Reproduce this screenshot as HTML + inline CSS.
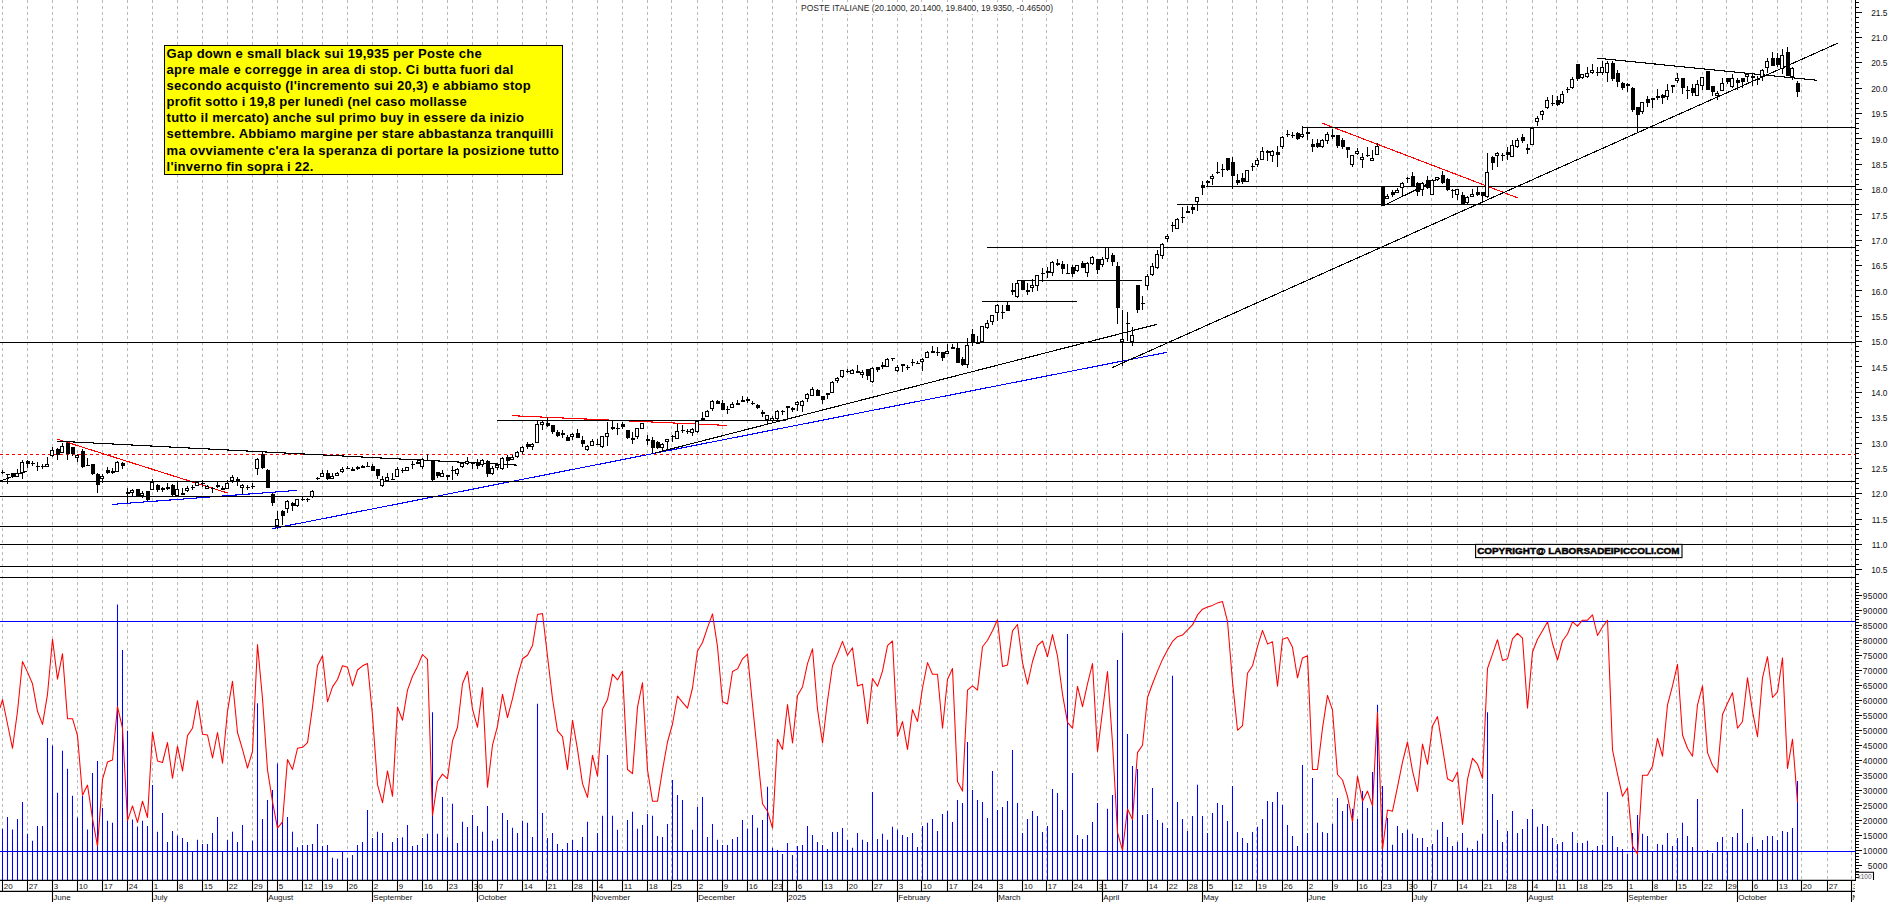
<!DOCTYPE html>
<html lang="it"><head><meta charset="utf-8"><title>POSTE ITALIANE</title>
<style>html,body{margin:0;padding:0;background:#fff;overflow:hidden}body{width:1890px;height:902px}</style>
</head><body>
<svg width="1890" height="902" viewBox="0 0 1890 902" style="display:block">
<rect width="1890" height="902" fill="#fff"/>
<g stroke="#b9b9b9" stroke-width="1" stroke-dasharray="3 3" shape-rendering="crispEdges">
<line x1="2.5" y1="0" x2="2.5" y2="879.9"/>
<line x1="27.5" y1="0" x2="27.5" y2="879.9"/>
<line x1="52.5" y1="0" x2="52.5" y2="879.9"/>
<line x1="77.5" y1="0" x2="77.5" y2="879.9"/>
<line x1="102.5" y1="0" x2="102.5" y2="879.9"/>
<line x1="127.5" y1="0" x2="127.5" y2="879.9"/>
<line x1="152.5" y1="0" x2="152.5" y2="879.9"/>
<line x1="177.5" y1="0" x2="177.5" y2="879.9"/>
<line x1="202.5" y1="0" x2="202.5" y2="879.9"/>
<line x1="227.5" y1="0" x2="227.5" y2="879.9"/>
<line x1="252.5" y1="0" x2="252.5" y2="879.9"/>
<line x1="277.5" y1="0" x2="277.5" y2="879.9"/>
<line x1="302.5" y1="0" x2="302.5" y2="879.9"/>
<line x1="322.5" y1="0" x2="322.5" y2="879.9"/>
<line x1="347.5" y1="0" x2="347.5" y2="879.9"/>
<line x1="372.5" y1="0" x2="372.5" y2="879.9"/>
<line x1="397.5" y1="0" x2="397.5" y2="879.9"/>
<line x1="422.5" y1="0" x2="422.5" y2="879.9"/>
<line x1="447.5" y1="0" x2="447.5" y2="879.9"/>
<line x1="472.5" y1="0" x2="472.5" y2="879.9"/>
<line x1="497.5" y1="0" x2="497.5" y2="879.9"/>
<line x1="522.5" y1="0" x2="522.5" y2="879.9"/>
<line x1="546.5" y1="0" x2="546.5" y2="879.9"/>
<line x1="572.5" y1="0" x2="572.5" y2="879.9"/>
<line x1="597.5" y1="0" x2="597.5" y2="879.9"/>
<line x1="622.5" y1="0" x2="622.5" y2="879.9"/>
<line x1="647.5" y1="0" x2="647.5" y2="879.9"/>
<line x1="671.5" y1="0" x2="671.5" y2="879.9"/>
<line x1="697.5" y1="0" x2="697.5" y2="879.9"/>
<line x1="722.5" y1="0" x2="722.5" y2="879.9"/>
<line x1="747.5" y1="0" x2="747.5" y2="879.9"/>
<line x1="772.5" y1="0" x2="772.5" y2="879.9"/>
<line x1="796.5" y1="0" x2="796.5" y2="879.9"/>
<line x1="822.5" y1="0" x2="822.5" y2="879.9"/>
<line x1="847.5" y1="0" x2="847.5" y2="879.9"/>
<line x1="872.5" y1="0" x2="872.5" y2="879.9"/>
<line x1="897.5" y1="0" x2="897.5" y2="879.9"/>
<line x1="921.5" y1="0" x2="921.5" y2="879.9"/>
<line x1="947.5" y1="0" x2="947.5" y2="879.9"/>
<line x1="972.5" y1="0" x2="972.5" y2="879.9"/>
<line x1="997.5" y1="0" x2="997.5" y2="879.9"/>
<line x1="1022.5" y1="0" x2="1022.5" y2="879.9"/>
<line x1="1046.5" y1="0" x2="1046.5" y2="879.9"/>
<line x1="1072.5" y1="0" x2="1072.5" y2="879.9"/>
<line x1="1097.5" y1="0" x2="1097.5" y2="879.9"/>
<line x1="1122.5" y1="0" x2="1122.5" y2="879.9"/>
<line x1="1147.5" y1="0" x2="1147.5" y2="879.9"/>
<line x1="1167.5" y1="0" x2="1167.5" y2="879.9"/>
<line x1="1187.5" y1="0" x2="1187.5" y2="879.9"/>
<line x1="1207.5" y1="0" x2="1207.5" y2="879.9"/>
<line x1="1232.5" y1="0" x2="1232.5" y2="879.9"/>
<line x1="1256.5" y1="0" x2="1256.5" y2="879.9"/>
<line x1="1282.5" y1="0" x2="1282.5" y2="879.9"/>
<line x1="1307.5" y1="0" x2="1307.5" y2="879.9"/>
<line x1="1332.5" y1="0" x2="1332.5" y2="879.9"/>
<line x1="1357.5" y1="0" x2="1357.5" y2="879.9"/>
<line x1="1381.5" y1="0" x2="1381.5" y2="879.9"/>
<line x1="1407.5" y1="0" x2="1407.5" y2="879.9"/>
<line x1="1431.5" y1="0" x2="1431.5" y2="879.9"/>
<line x1="1457.5" y1="0" x2="1457.5" y2="879.9"/>
<line x1="1482.5" y1="0" x2="1482.5" y2="879.9"/>
<line x1="1506.5" y1="0" x2="1506.5" y2="879.9"/>
<line x1="1532.5" y1="0" x2="1532.5" y2="879.9"/>
<line x1="1556.5" y1="0" x2="1556.5" y2="879.9"/>
<line x1="1577.5" y1="0" x2="1577.5" y2="879.9"/>
<line x1="1602.5" y1="0" x2="1602.5" y2="879.9"/>
<line x1="1627.5" y1="0" x2="1627.5" y2="879.9"/>
<line x1="1652.5" y1="0" x2="1652.5" y2="879.9"/>
<line x1="1676.5" y1="0" x2="1676.5" y2="879.9"/>
<line x1="1702.5" y1="0" x2="1702.5" y2="879.9"/>
<line x1="1726.5" y1="0" x2="1726.5" y2="879.9"/>
<line x1="1752.5" y1="0" x2="1752.5" y2="879.9"/>
<line x1="1777.5" y1="0" x2="1777.5" y2="879.9"/>
<line x1="1801.5" y1="0" x2="1801.5" y2="879.9"/>
<line x1="1827.5" y1="0" x2="1827.5" y2="879.9"/>
<line x1="1851.5" y1="0" x2="1851.5" y2="879.9"/>
</g>
<line x1="0" y1="454.5" x2="1855" y2="454.5" stroke="#f00" stroke-width="1" stroke-dasharray="3 3" shape-rendering="crispEdges"/>
<g fill="none">
<line x1="56.9" y1="439.1" x2="227.5" y2="493" stroke="#f00" stroke-width="1.1" shape-rendering="crispEdges"/>
<line x1="512.2" y1="415.7" x2="727" y2="425.4" stroke="#f00" stroke-width="1.1" shape-rendering="crispEdges"/>
<line x1="1322" y1="123.1" x2="1517.6" y2="197.8" stroke="#f00" stroke-width="1.1" shape-rendering="crispEdges"/>
<line x1="112.2" y1="504.4" x2="296.7" y2="490.4" stroke="#00f" stroke-width="1.1" shape-rendering="crispEdges"/>
<line x1="272.5" y1="528.6" x2="1167" y2="352.3" stroke="#00f" stroke-width="1.1" shape-rendering="crispEdges"/>
</g>
<g stroke="#000" stroke-width="1.0" fill="none">
<line x1="1302" y1="127.5" x2="1855" y2="127.5" stroke-width="1" shape-rendering="crispEdges"/>
<line x1="1206" y1="186.5" x2="1855" y2="186.5" stroke-width="1" shape-rendering="crispEdges"/>
<line x1="1177" y1="204.5" x2="1855" y2="204.5" stroke-width="1" shape-rendering="crispEdges"/>
<line x1="987" y1="247.5" x2="1855" y2="247.5" stroke-width="1" shape-rendering="crispEdges"/>
<line x1="1017" y1="280.5" x2="1142" y2="280.5" stroke-width="1" shape-rendering="crispEdges"/>
<line x1="982" y1="301.5" x2="1077" y2="301.5" stroke-width="1" shape-rendering="crispEdges"/>
<line x1="0" y1="342.5" x2="1855" y2="342.5" stroke-width="1" shape-rendering="crispEdges"/>
<line x1="497" y1="420.5" x2="786" y2="420.5" stroke-width="1" shape-rendering="crispEdges"/>
<line x1="0" y1="481.5" x2="1855" y2="481.5" stroke-width="1" shape-rendering="crispEdges"/>
<line x1="0" y1="496.5" x2="1855" y2="496.5" stroke-width="1" shape-rendering="crispEdges"/>
<line x1="0" y1="526.5" x2="1855" y2="526.5" stroke-width="1" shape-rendering="crispEdges"/>
<line x1="0" y1="544.5" x2="1855" y2="544.5" stroke-width="1" shape-rendering="crispEdges"/>
<line x1="0" y1="566.5" x2="1855" y2="566.5" stroke-width="1" shape-rendering="crispEdges"/>
<line x1="0" y1="577.5" x2="1855" y2="577.5" stroke-width="1" shape-rendering="crispEdges"/>
<line x1="0.5" y1="481" x2="27" y2="471" stroke-width="1.1" shape-rendering="crispEdges"/>
<line x1="57" y1="441.1" x2="517" y2="465.1" stroke-width="1.1" shape-rendering="crispEdges"/>
<line x1="655" y1="453" x2="1157" y2="324.3" stroke-width="1.1" shape-rendering="crispEdges"/>
<line x1="1112" y1="367.7" x2="1837.5" y2="43.3" stroke-width="1.1" shape-rendering="crispEdges"/>
<line x1="1382.5" y1="206.2" x2="1440" y2="178" stroke-width="1.1" shape-rendering="crispEdges"/>
<line x1="1597.2" y1="58.2" x2="1817" y2="80.3" stroke-width="1.1" shape-rendering="crispEdges"/>
</g>
<g shape-rendering="crispEdges">
<path d="M2.5 470V474M7.5 474V484M12.5 473V478M17.5 469V477M22.5 460V479M27.5 460V468M32.5 461V466M37.5 462V471M42.5 464V469M47.5 457V466M52.5 447V457M57.5 448V460M62.5 443V453M67.5 442V460M72.5 447V456M77.5 454V462M82.5 449V468M87.5 458V465M92.5 464V475M97.5 473V493M102.5 474V483M107.5 467V474M112.5 468V474M117.5 461V472M122.5 462V469M127.5 488V503M132.5 489V496M137.5 489V496M142.5 491V498M147.5 491V501M152.5 479V490M157.5 484V492M162.5 487V492M167.5 483V490M172.5 484V496M177.5 482V496M182.5 488V495M187.5 486V492M192.5 485V490M197.5 482V486M202.5 480V487M207.5 485V489M212.5 487V493M217.5 482V488M222.5 486V490M227.5 480V489M232.5 475V483M237.5 477V486M242.5 484V494M247.5 485V490M252.5 483V489M257.5 458V475M262.5 452V469M267.5 469V488M272.5 493V506M277.5 511V529M282.5 510V525M287.5 500V513M292.5 502V511M297.5 499V507M302.5 497V501M307.5 498V502M312.5 490V498M317.5 477V480M322.5 470V477M327.5 470V480M332.5 473V478M337.5 472V476M342.5 467V473M347.5 466V469M352.5 467V471M357.5 466V470M362.5 465V468M367.5 462V466M372.5 464V471M377.5 469V479M382.5 476V487M387.5 473V481M392.5 473V480M397.5 467V477M402.5 468V473M407.5 467V471M412.5 461V469M417.5 460V464M422.5 458V469M427.5 454V460M432.5 461V481M437.5 472V478M442.5 470V477M447.5 475V480M452.5 466V480M457.5 468V476M462.5 463V468M467.5 457V465M472.5 462V469M477.5 459V469M482.5 459V467M487.5 460V477M492.5 466V475M497.5 463V470M502.5 457V470M507.5 455V468M512.5 455V460M517.5 451V458M522.5 446V454M527.5 442V449M532.5 443V450M537.5 421V443M542.5 421V430M547.5 417V427M552.5 425V434M557.5 430V437M562.5 430V438M567.5 435V441M572.5 433V440M577.5 429V438M582.5 436V447M587.5 445V451M592.5 439V446M597.5 439V445M602.5 436V448M607.5 422V446M612.5 421V430M617.5 423V435M622.5 422V429M627.5 430V439M632.5 432V444M637.5 428V439M642.5 423V429M647.5 435V445M652.5 437V454M657.5 441V449M662.5 443V452M667.5 439V449M672.5 435V442M677.5 424V439M682.5 425V433M687.5 429V434M692.5 428V436M697.5 420V433M702.5 412V420M707.5 410V417M712.5 400V411M717.5 400V404M722.5 400V410M727.5 406V414M732.5 402V408M737.5 400V405M742.5 396V402M747.5 397V403M752.5 401V405M757.5 404V409M762.5 410V417M767.5 415V424M772.5 416V422M777.5 410V421M782.5 410V415M787.5 406V418M792.5 407V412M797.5 401V411M802.5 400V412M807.5 393V402M812.5 387V396M817.5 389V396M822.5 396V404M827.5 393V399M832.5 381V393M837.5 377V383M842.5 370V378M847.5 369V373M852.5 369V374M857.5 365V373M862.5 370V378M867.5 369V380M872.5 367V383M877.5 367V372M882.5 362V369M887.5 358V367M892.5 358V361M897.5 365V372M902.5 364V372M907.5 365V370M912.5 359V366M917.5 361V364M922.5 358V371M927.5 351V358M932.5 346V353M937.5 347V356M942.5 352V361M947.5 344V354M952.5 344V349M957.5 343V363M962.5 357V366M967.5 338V368M972.5 329V346M977.5 336V344M982.5 326V342M987.5 320V329M992.5 315V325M997.5 304V321M1002.5 305V319M1007.5 302V311M1012.5 283V295M1017.5 281V298M1022.5 281V290M1027.5 283V295M1032.5 279V292M1037.5 275V291M1042.5 268V282M1047.5 267V278M1052.5 261V276M1057.5 259V266M1062.5 261V274M1067.5 264V274M1072.5 265V277M1077.5 265V272M1082.5 261V268M1087.5 262V277M1092.5 256V265M1097.5 259V274M1102.5 257V267M1107.5 247V262M1112.5 253V266M1117.5 262V324M1122.5 310V366M1127.5 312V341M1132.5 327V346M1137.5 285V313M1142.5 296V310M1147.5 274V290M1152.5 263V276M1157.5 250V269M1162.5 243V259M1167.5 234V242M1172.5 222V232M1177.5 218V229M1182.5 207V223M1187.5 206V213M1192.5 205V214M1197.5 197V211M1202.5 181V195M1207.5 180V187M1212.5 174V185M1217.5 162V174M1222.5 164V177M1227.5 158V171M1232.5 157V189M1237.5 174V185M1242.5 173V184M1247.5 170V182M1252.5 163V171M1257.5 158V167M1262.5 147V160M1267.5 150V161M1272.5 150V162M1277.5 146V167M1282.5 136V149M1287.5 130V137M1292.5 132V138M1297.5 132V140M1302.5 126V138M1307.5 128V140M1312.5 139V152M1317.5 139V148M1322.5 139V148M1327.5 132V144M1332.5 129V139M1337.5 135V148M1342.5 138V149M1347.5 147V158M1352.5 155V167M1357.5 148V155M1362.5 153V168M1367.5 147V157M1372.5 150V160M1377.5 143V155M1382.5 186V206M1387.5 194V199M1392.5 190V197M1397.5 188V193M1402.5 182V196M1407.5 177V183M1412.5 172V186M1417.5 182V196M1422.5 182V196M1427.5 176V189M1432.5 179V195M1437.5 177V181M1442.5 171V184M1447.5 178V191M1452.5 189V198M1457.5 189V200M1462.5 192V204M1467.5 196V204M1472.5 189V197M1477.5 186V196M1482.5 192V201M1487.5 153V198M1492.5 156V170M1497.5 152V167M1502.5 153V161M1507.5 147V160M1512.5 140V157M1517.5 138V148M1522.5 134V143M1527.5 144V154M1532.5 128V145M1537.5 116V126M1542.5 110V120M1547.5 97V109M1552.5 95V106M1557.5 96V106M1562.5 91V104M1567.5 87V93M1572.5 77V89M1577.5 64V81M1582.5 74V79M1587.5 67V78M1592.5 64V74M1597.5 67V76M1602.5 61V75M1607.5 61V82M1612.5 61V81M1617.5 70V87M1622.5 82V90M1627.5 83V92M1632.5 87V112M1637.5 107V133M1642.5 102V114M1647.5 96V107M1652.5 98V108M1657.5 89V100M1662.5 94V104M1667.5 84V100M1672.5 85V93M1677.5 73V83M1682.5 78V94M1687.5 86V99M1692.5 84V96M1697.5 80V96M1702.5 77V90M1707.5 71V90M1712.5 86V96M1717.5 91V100M1722.5 78V91M1727.5 78V84M1732.5 74V88M1737.5 78V90M1742.5 78V88M1747.5 74V82M1752.5 73V86M1757.5 76V85M1762.5 69V81M1767.5 58V73M1772.5 52V66M1777.5 53V67M1782.5 49V74M1787.5 47V76M1792.5 67V80M1797.5 81V97" stroke="#000" stroke-width="1" fill="none"/>
<path d="M0.5 472.5H4.5M5.5 474.5H9.5M30.5 463.5H34.5M35.5 466.5H39.5M40.5 466.5H44.5M85.5 465.5H89.5M190.5 487.5H194.5M200.5 483.5H204.5M210.5 488.5H214.5M245.5 487.5H249.5M250.5 486.5H254.5M300.5 499.5H304.5M305.5 499.5H309.5M315.5 478.5H319.5M345.5 468.5H349.5M365.5 466.5H369.5M390.5 479.5H394.5M400.5 470.5H404.5M410.5 464.5H414.5M425.5 460.5H429.5M450.5 470.5H454.5M470.5 463.5H474.5M595.5 444.5H599.5M615.5 428.5H619.5M670.5 436.5H674.5M680.5 430.5H684.5M685.5 431.5H689.5M725.5 409.5H729.5M750.5 403.5H754.5M780.5 411.5H784.5M845.5 371.5H849.5M890.5 358.5H894.5M905.5 367.5H909.5M910.5 362.5H914.5M915.5 363.5H919.5M935.5 352.5H939.5M1000.5 312.5H1004.5M1040.5 273.5H1044.5M1065.5 273.5H1069.5M1125.5 323.5H1129.5M1140.5 303.5H1144.5M1170.5 225.5H1174.5M1180.5 217.5H1184.5M1215.5 172.5H1219.5M1220.5 169.5H1224.5M1250.5 166.5H1254.5M1285.5 134.5H1289.5M1290.5 135.5H1294.5M1365.5 155.5H1369.5M1405.5 178.5H1409.5M1450.5 190.5H1454.5M1500.5 155.5H1504.5M1550.5 103.5H1554.5M1565.5 89.5H1569.5M1595.5 72.5H1599.5M1685.5 90.5H1689.5M1755.5 79.5H1759.5" stroke="#000" stroke-width="1" fill="none"/>
<path d="M11.0 473H15.0V477H11.0ZM26.0 461H30.0V464H26.0ZM56.0 449H60.0V455H56.0ZM66.0 443H70.0V454H66.0ZM71.0 447H75.0V454H71.0ZM81.0 451H85.0V467H81.0ZM91.0 464H95.0V474H91.0ZM96.0 474H100.0V485H96.0ZM106.0 470H110.0V473H106.0ZM111.0 471H115.0V473H111.0ZM121.0 463H125.0V466H121.0ZM126.0 492H130.0V494H126.0ZM136.0 489H140.0V496H136.0ZM146.0 491H150.0V500H146.0ZM156.0 485H160.0V490H156.0ZM161.0 488H165.0V490H161.0ZM166.0 487H170.0V489H166.0ZM171.0 485H175.0V495H171.0ZM181.0 493H185.0V495H181.0ZM216.0 485H220.0V487H216.0ZM221.0 488H225.0V490H221.0ZM236.0 479H240.0V482H236.0ZM261.0 454H265.0V468H261.0ZM266.0 470H270.0V488H266.0ZM271.0 494H275.0V503H271.0ZM281.0 511H285.0V516H281.0ZM291.0 503H295.0V506H291.0ZM326.0 473H330.0V479H326.0ZM351.0 469H355.0V471H351.0ZM356.0 467H360.0V469H356.0ZM361.0 466H365.0V468H361.0ZM371.0 466H375.0V471H371.0ZM376.0 469H380.0V476H376.0ZM416.0 462H420.0V464H416.0ZM431.0 461H435.0V480H431.0ZM436.0 472H440.0V476H436.0ZM446.0 475H450.0V477H446.0ZM476.0 462H480.0V466H476.0ZM486.0 461H490.0V474H486.0ZM506.0 457H510.0V461H506.0ZM526.0 444H530.0V447H526.0ZM546.0 423H550.0V426H546.0ZM551.0 425H555.0V432H551.0ZM556.0 432H560.0V436H556.0ZM561.0 433H565.0V435H561.0ZM566.0 437H570.0V441H566.0ZM576.0 433H580.0V438H576.0ZM581.0 440H585.0V444H581.0ZM611.0 427H615.0V429H611.0ZM621.0 424H625.0V427H621.0ZM626.0 430H630.0V438H626.0ZM631.0 438H635.0V440H631.0ZM646.0 439H650.0V441H646.0ZM651.0 440H655.0V448H651.0ZM656.0 442H660.0V448H656.0ZM701.0 418H705.0V420H701.0ZM716.0 401H720.0V404H716.0ZM721.0 403H725.0V410H721.0ZM736.0 403H740.0V405H736.0ZM741.0 400H745.0V402H741.0ZM746.0 399H750.0V401H746.0ZM756.0 405H760.0V408H756.0ZM761.0 412H765.0V414H761.0ZM786.0 406H790.0V408H786.0ZM791.0 408H795.0V410H791.0ZM816.0 390H820.0V396H816.0ZM821.0 396H825.0V400H821.0ZM826.0 393H830.0V395H826.0ZM856.0 371H860.0V373H856.0ZM866.0 369H870.0V376H866.0ZM876.0 367H880.0V370H876.0ZM881.0 365H885.0V367H881.0ZM901.0 364H905.0V366H901.0ZM931.0 351H935.0V353H931.0ZM941.0 352H945.0V358H941.0ZM951.0 347H955.0V349H951.0ZM956.0 348H960.0V363H956.0ZM961.0 359H965.0V365H961.0ZM971.0 334H975.0V342H971.0ZM976.0 342H980.0V344H976.0ZM1006.0 305H1010.0V311H1006.0ZM1011.0 290H1015.0V292H1011.0ZM1021.0 281H1025.0V290H1021.0ZM1026.0 290H1030.0V292H1026.0ZM1046.0 271H1050.0V273H1046.0ZM1056.0 263H1060.0V265H1056.0ZM1061.0 264H1065.0V269H1061.0ZM1071.0 267H1075.0V274H1071.0ZM1081.0 263H1085.0V268H1081.0ZM1096.0 259H1100.0V270H1096.0ZM1111.0 255H1115.0V262H1111.0ZM1116.0 266H1120.0V308H1116.0ZM1136.0 285H1140.0V310H1136.0ZM1186.0 211H1190.0V213H1186.0ZM1191.0 207H1195.0V210H1191.0ZM1201.0 185H1205.0V188H1201.0ZM1206.0 181H1210.0V183H1206.0ZM1226.0 158H1230.0V170H1226.0ZM1231.0 162H1235.0V176H1231.0ZM1236.0 180H1240.0V183H1236.0ZM1241.0 178H1245.0V182H1241.0ZM1266.0 151H1270.0V153H1266.0ZM1276.0 152H1280.0V155H1276.0ZM1296.0 133H1300.0V139H1296.0ZM1306.0 132H1310.0V134H1306.0ZM1311.0 144H1315.0V147H1311.0ZM1316.0 143H1320.0V147H1316.0ZM1331.0 135H1335.0V137H1331.0ZM1336.0 135H1340.0V146H1336.0ZM1341.0 140H1345.0V147H1341.0ZM1346.0 147H1350.0V150H1346.0ZM1381.0 186H1385.0V206H1381.0ZM1391.0 192H1395.0V195H1391.0ZM1411.0 176H1415.0V186H1411.0ZM1416.0 183H1420.0V192H1416.0ZM1426.0 180H1430.0V188H1426.0ZM1441.0 175H1445.0V183H1441.0ZM1446.0 179H1450.0V190H1446.0ZM1461.0 195H1465.0V204H1461.0ZM1476.0 192H1480.0V195H1476.0ZM1481.0 192H1485.0V196H1481.0ZM1491.0 157H1495.0V163H1491.0ZM1506.0 152H1510.0V155H1506.0ZM1521.0 137H1525.0V141H1521.0ZM1526.0 148H1530.0V150H1526.0ZM1556.0 100H1560.0V105H1556.0ZM1576.0 64H1580.0V79H1576.0ZM1611.0 63H1615.0V79H1611.0ZM1616.0 73H1620.0V82H1616.0ZM1621.0 83H1625.0V88H1621.0ZM1626.0 84H1630.0V86H1626.0ZM1631.0 88H1635.0V110H1631.0ZM1636.0 107H1640.0V115H1636.0ZM1646.0 99H1650.0V103H1646.0ZM1651.0 98H1655.0V100H1651.0ZM1656.0 96H1660.0V98H1656.0ZM1661.0 95H1665.0V98H1661.0ZM1671.0 85H1675.0V87H1671.0ZM1681.0 78H1685.0V88H1681.0ZM1691.0 88H1695.0V93H1691.0ZM1706.0 71H1710.0V90H1706.0ZM1711.0 86H1715.0V92H1711.0ZM1726.0 78H1730.0V82H1726.0ZM1736.0 80H1740.0V83H1736.0ZM1741.0 78H1745.0V82H1741.0ZM1751.0 76H1755.0V78H1751.0ZM1771.0 58H1775.0V66H1771.0ZM1776.0 58H1780.0V65H1776.0ZM1786.0 52H1790.0V76H1786.0ZM1796.0 83H1800.0V92H1796.0Z" fill="#000"/>
<path d="M15.5 473.5H18.5V476.5H15.5ZM20.5 462.5H23.5V472.5H20.5ZM45.5 464.5H48.5V466.5H45.5ZM50.5 450.5H53.5V455.5H50.5ZM60.5 446.5H63.5V452.5H60.5ZM75.5 455.5H78.5V457.5H75.5ZM100.5 476.5H103.5V478.5H100.5ZM115.5 462.5H118.5V471.5H115.5ZM130.5 490.5H133.5V492.5H130.5ZM140.5 493.5H143.5V495.5H140.5ZM150.5 482.5H153.5V489.5H150.5ZM175.5 489.5H178.5V495.5H175.5ZM185.5 488.5H188.5V490.5H185.5ZM195.5 482.5H198.5V485.5H195.5ZM205.5 486.5H208.5V488.5H205.5ZM225.5 483.5H228.5V488.5H225.5ZM230.5 477.5H233.5V480.5H230.5ZM240.5 485.5H243.5V487.5H240.5ZM255.5 459.5H258.5V468.5H255.5ZM275.5 519.5H278.5V525.5H275.5ZM285.5 501.5H288.5V508.5H285.5ZM295.5 499.5H298.5V505.5H295.5ZM310.5 491.5H313.5V496.5H310.5ZM320.5 473.5H323.5V476.5H320.5ZM330.5 476.5H333.5V478.5H330.5ZM335.5 473.5H338.5V475.5H335.5ZM340.5 469.5H343.5V471.5H340.5ZM380.5 479.5H383.5V485.5H380.5ZM385.5 477.5H388.5V480.5H385.5ZM395.5 469.5H398.5V476.5H395.5ZM405.5 467.5H408.5V470.5H405.5ZM420.5 459.5H423.5V466.5H420.5ZM440.5 473.5H443.5V476.5H440.5ZM455.5 469.5H458.5V473.5H455.5ZM460.5 463.5H463.5V466.5H460.5ZM465.5 461.5H468.5V463.5H465.5ZM480.5 460.5H483.5V464.5H480.5ZM490.5 468.5H493.5V473.5H490.5ZM495.5 465.5H498.5V467.5H495.5ZM500.5 458.5H503.5V468.5H500.5ZM510.5 457.5H513.5V459.5H510.5ZM515.5 452.5H518.5V456.5H515.5ZM520.5 447.5H523.5V451.5H520.5ZM530.5 444.5H533.5V446.5H530.5ZM535.5 424.5H538.5V442.5H535.5ZM540.5 422.5H543.5V424.5H540.5ZM570.5 434.5H573.5V436.5H570.5ZM585.5 446.5H588.5V449.5H585.5ZM590.5 441.5H593.5V445.5H590.5ZM600.5 436.5H603.5V446.5H600.5ZM605.5 433.5H608.5V436.5H605.5ZM635.5 428.5H638.5V436.5H635.5ZM640.5 423.5H643.5V428.5H640.5ZM660.5 444.5H663.5V447.5H660.5ZM665.5 439.5H668.5V441.5H665.5ZM675.5 431.5H678.5V438.5H675.5ZM690.5 429.5H693.5V432.5H690.5ZM695.5 421.5H698.5V431.5H695.5ZM705.5 411.5H708.5V416.5H705.5ZM710.5 401.5H713.5V408.5H710.5ZM730.5 404.5H733.5V407.5H730.5ZM765.5 415.5H768.5V419.5H765.5ZM770.5 418.5H773.5V420.5H770.5ZM775.5 411.5H778.5V418.5H775.5ZM795.5 402.5H798.5V404.5H795.5ZM800.5 401.5H803.5V405.5H800.5ZM805.5 394.5H808.5V398.5H805.5ZM810.5 389.5H813.5V395.5H810.5ZM830.5 382.5H833.5V392.5H830.5ZM835.5 378.5H838.5V380.5H835.5ZM840.5 370.5H843.5V376.5H840.5ZM850.5 370.5H853.5V373.5H850.5ZM860.5 372.5H863.5V374.5H860.5ZM870.5 368.5H873.5V381.5H870.5ZM885.5 359.5H888.5V366.5H885.5ZM895.5 367.5H898.5V370.5H895.5ZM920.5 359.5H923.5V361.5H920.5ZM925.5 352.5H928.5V357.5H925.5ZM945.5 351.5H948.5V353.5H945.5ZM965.5 345.5H968.5V364.5H965.5ZM980.5 326.5H983.5V341.5H980.5ZM985.5 323.5H988.5V327.5H985.5ZM990.5 315.5H993.5V321.5H990.5ZM995.5 305.5H998.5V312.5H995.5ZM1015.5 283.5H1018.5V296.5H1015.5ZM1030.5 285.5H1033.5V287.5H1030.5ZM1035.5 275.5H1038.5V285.5H1035.5ZM1050.5 262.5H1053.5V272.5H1050.5ZM1075.5 265.5H1078.5V270.5H1075.5ZM1085.5 263.5H1088.5V272.5H1085.5ZM1090.5 257.5H1093.5V263.5H1090.5ZM1100.5 259.5H1103.5V264.5H1100.5ZM1105.5 247.5H1108.5V258.5H1105.5ZM1120.5 339.5H1123.5V341.5H1120.5ZM1130.5 335.5H1133.5V341.5H1130.5ZM1145.5 276.5H1148.5V285.5H1145.5ZM1150.5 266.5H1153.5V274.5H1150.5ZM1155.5 254.5H1158.5V267.5H1155.5ZM1160.5 244.5H1163.5V255.5H1160.5ZM1165.5 236.5H1168.5V238.5H1165.5ZM1175.5 219.5H1178.5V228.5H1175.5ZM1195.5 197.5H1198.5V201.5H1195.5ZM1210.5 176.5H1213.5V178.5H1210.5ZM1245.5 170.5H1248.5V181.5H1245.5ZM1255.5 160.5H1258.5V164.5H1255.5ZM1260.5 151.5H1263.5V159.5H1260.5ZM1270.5 151.5H1273.5V155.5H1270.5ZM1280.5 137.5H1283.5V146.5H1280.5ZM1300.5 134.5H1303.5V136.5H1300.5ZM1320.5 140.5H1323.5V146.5H1320.5ZM1325.5 134.5H1328.5V140.5H1325.5ZM1350.5 155.5H1353.5V164.5H1350.5ZM1355.5 151.5H1358.5V153.5H1355.5ZM1360.5 157.5H1363.5V159.5H1360.5ZM1370.5 158.5H1373.5V160.5H1370.5ZM1375.5 146.5H1378.5V154.5H1375.5ZM1385.5 196.5H1388.5V198.5H1385.5ZM1395.5 190.5H1398.5V192.5H1395.5ZM1400.5 183.5H1403.5V187.5H1400.5ZM1420.5 183.5H1423.5V189.5H1420.5ZM1430.5 180.5H1433.5V194.5H1430.5ZM1435.5 177.5H1438.5V179.5H1435.5ZM1455.5 189.5H1458.5V194.5H1455.5ZM1465.5 197.5H1468.5V202.5H1465.5ZM1470.5 194.5H1473.5V196.5H1470.5ZM1485.5 172.5H1488.5V196.5H1485.5ZM1495.5 153.5H1498.5V155.5H1495.5ZM1510.5 145.5H1513.5V156.5H1510.5ZM1515.5 140.5H1518.5V146.5H1515.5ZM1530.5 128.5H1533.5V144.5H1530.5ZM1535.5 118.5H1538.5V121.5H1535.5ZM1540.5 111.5H1543.5V114.5H1540.5ZM1545.5 100.5H1548.5V107.5H1545.5ZM1560.5 94.5H1563.5V102.5H1560.5ZM1570.5 79.5H1573.5V87.5H1570.5ZM1580.5 74.5H1583.5V77.5H1580.5ZM1585.5 73.5H1588.5V76.5H1585.5ZM1590.5 70.5H1593.5V72.5H1590.5ZM1600.5 67.5H1603.5V72.5H1600.5ZM1605.5 63.5H1608.5V72.5H1605.5ZM1640.5 102.5H1643.5V111.5H1640.5ZM1665.5 90.5H1668.5V96.5H1665.5ZM1675.5 78.5H1678.5V80.5H1675.5ZM1695.5 84.5H1698.5V95.5H1695.5ZM1700.5 77.5H1703.5V85.5H1700.5ZM1715.5 93.5H1718.5V95.5H1715.5ZM1720.5 83.5H1723.5V90.5H1720.5ZM1730.5 78.5H1733.5V86.5H1730.5ZM1745.5 74.5H1748.5V76.5H1745.5ZM1760.5 70.5H1763.5V76.5H1760.5ZM1765.5 61.5H1768.5V67.5H1765.5ZM1780.5 55.5H1783.5V68.5H1780.5ZM1790.5 68.5H1793.5V76.5H1790.5Z" fill="#fff" stroke="#000" stroke-width="1"/>
</g>
<path d="M2.5 828.7V880.4M7.5 816.9V880.4M12.5 829.6V880.4M17.5 819.0V880.4M22.5 802.1V880.4M27.5 833.8V880.4M32.5 840.8V880.4M37.5 826.0V880.4M42.5 826.0V880.4M47.5 738.1V880.4M52.5 745.5V880.4M57.5 792.7V880.4M62.5 750.8V880.4M67.5 768.8V880.4M72.5 795.7V880.4M77.5 817.5V880.4M82.5 795.7V880.4M87.5 829.6V880.4M92.5 773.1V880.4M97.5 761.0V880.4M102.5 808.0V880.4M107.5 820.7V880.4M112.5 822.8V880.4M117.5 604.4V880.4M122.5 649.9V880.4M127.5 730.7V880.4M132.5 819.6V880.4M137.5 826.6V880.4M142.5 820.7V880.4M147.5 826.0V880.4M152.5 785.1V880.4M157.5 831.7V880.4M162.5 812.9V880.4M167.5 841.9V880.4M172.5 830.9V880.4M177.5 835.5V880.4M182.5 838.1V880.4M187.5 841.9V880.4M192.5 851.4V880.4M197.5 839.8V880.4M202.5 844.0V880.4M207.5 844.0V880.4M212.5 833.0V880.4M217.5 816.9V880.4M222.5 851.4V880.4M227.5 839.8V880.4M232.5 831.7V880.4M237.5 841.9V880.4M242.5 824.9V880.4M247.5 851.4V880.4M252.5 840.8V880.4M257.5 703.2V880.4M262.5 819.0V880.4M267.5 799.9V880.4M272.5 790.0V880.4M277.5 763.5V880.4M282.5 821.8V880.4M287.5 816.9V880.4M292.5 831.7V880.4M297.5 847.2V880.4M302.5 845.1V880.4M307.5 845.1V880.4M312.5 844.0V880.4M317.5 823.9V880.4M322.5 846.1V880.4M327.5 845.1V880.4M332.5 857.8V880.4M337.5 858.8V880.4M342.5 851.4V880.4M347.5 857.8V880.4M352.5 855.0V880.4M357.5 845.1V880.4M362.5 841.9V880.4M367.5 810.1V880.4M372.5 838.1V880.4M377.5 831.7V880.4M382.5 833.0V880.4M387.5 851.4V880.4M392.5 841.9V880.4M397.5 838.1V880.4M402.5 837.2V880.4M407.5 824.9V880.4M412.5 846.1V880.4M417.5 845.1V880.4M422.5 838.1V880.4M427.5 833.8V880.4M432.5 712.3V880.4M437.5 833.8V880.4M442.5 797.0V880.4M447.5 837.2V880.4M452.5 803.8V880.4M457.5 842.9V880.4M462.5 821.8V880.4M467.5 827.1V880.4M472.5 815.0V880.4M477.5 826.0V880.4M482.5 831.7V880.4M487.5 805.9V880.4M492.5 840.8V880.4M497.5 838.7V880.4M502.5 812.9V880.4M507.5 820.1V880.4M512.5 827.7V880.4M517.5 833.0V880.4M522.5 820.7V880.4M527.5 822.8V880.4M532.5 837.0V880.4M537.5 703.8V880.4M542.5 812.9V880.4M547.5 838.1V880.4M552.5 833.0V880.4M557.5 844.0V880.4M562.5 848.9V880.4M567.5 842.9V880.4M572.5 839.8V880.4M577.5 849.9V880.4M582.5 837.0V880.4M587.5 821.8V880.4M592.5 851.4V880.4M597.5 833.0V880.4M602.5 815.8V880.4M607.5 755.1V880.4M612.5 815.8V880.4M617.5 829.8V880.4M622.5 851.4V880.4M627.5 820.1V880.4M632.5 811.8V880.4M637.5 828.7V880.4M642.5 824.9V880.4M647.5 813.9V880.4M652.5 815.8V880.4M657.5 835.9V880.4M662.5 837.0V880.4M667.5 823.9V880.4M672.5 780.0V880.4M677.5 794.9V880.4M682.5 799.9V880.4M687.5 851.4V880.4M692.5 829.8V880.4M697.5 806.9V880.4M702.5 797.0V880.4M707.5 837.0V880.4M712.5 823.9V880.4M717.5 839.8V880.4M722.5 845.1V880.4M727.5 845.1V880.4M732.5 839.1V880.4M737.5 837.0V880.4M742.5 820.1V880.4M747.5 828.7V880.4M752.5 815.0V880.4M757.5 827.7V880.4M762.5 820.1V880.4M767.5 786.8V880.4M772.5 847.8V880.4M777.5 849.9V880.4M782.5 853.9V880.4M787.5 842.9V880.4M792.5 855.0V880.4M797.5 846.1V880.4M802.5 845.1V880.4M807.5 826.0V880.4M812.5 834.9V880.4M817.5 841.9V880.4M822.5 845.1V880.4M827.5 848.9V880.4M832.5 831.9V880.4M837.5 831.9V880.4M842.5 827.9V880.4M847.5 839.8V880.4M852.5 847.8V880.4M857.5 833.0V880.4M862.5 839.8V880.4M867.5 841.9V880.4M872.5 792.1V880.4M877.5 838.9V880.4M882.5 833.8V880.4M887.5 839.8V880.4M892.5 826.8V880.4M897.5 829.8V880.4M902.5 834.9V880.4M907.5 837.0V880.4M912.5 833.0V880.4M917.5 847.0V880.4M922.5 826.0V880.4M927.5 822.8V880.4M932.5 819.0V880.4M937.5 830.9V880.4M942.5 813.9V880.4M947.5 811.0V880.4M952.5 822.0V880.4M957.5 799.9V880.4M962.5 802.9V880.4M967.5 741.9V880.4M972.5 790.0V880.4M977.5 799.9V880.4M982.5 802.1V880.4M987.5 817.9V880.4M992.5 770.9V880.4M997.5 809.9V880.4M1002.5 806.9V880.4M1007.5 801.0V880.4M1012.5 750.0V880.4M1017.5 802.9V880.4M1022.5 833.0V880.4M1027.5 819.0V880.4M1032.5 811.0V880.4M1037.5 816.0V880.4M1042.5 831.9V880.4M1047.5 826.0V880.4M1052.5 788.9V880.4M1057.5 793.0V880.4M1062.5 809.9V880.4M1067.5 634.0V880.4M1072.5 773.1V880.4M1077.5 834.9V880.4M1082.5 838.9V880.4M1087.5 834.9V880.4M1092.5 822.0V880.4M1097.5 802.9V880.4M1102.5 880.4V880.4M1107.5 808.8V880.4M1112.5 794.9V880.4M1117.5 660.0V880.4M1122.5 632.9V880.4M1127.5 733.9V880.4M1132.5 766.1V880.4M1137.5 769.0V880.4M1142.5 815.0V880.4M1147.5 813.9V880.4M1152.5 787.9V880.4M1157.5 820.1V880.4M1162.5 822.8V880.4M1167.5 827.9V880.4M1172.5 675.7V880.4M1177.5 802.1V880.4M1182.5 819.0V880.4M1187.5 830.9V880.4M1192.5 816.0V880.4M1197.5 784.7V880.4M1202.5 816.0V880.4M1207.5 833.0V880.4M1212.5 812.9V880.4M1217.5 802.9V880.4M1222.5 805.0V880.4M1227.5 820.9V880.4M1232.5 786.0V880.4M1237.5 831.9V880.4M1242.5 837.9V880.4M1247.5 842.9V880.4M1252.5 831.9V880.4M1257.5 826.8V880.4M1262.5 819.0V880.4M1267.5 801.0V880.4M1272.5 802.1V880.4M1277.5 791.9V880.4M1282.5 805.0V880.4M1287.5 824.9V880.4M1292.5 835.9V880.4M1297.5 845.9V880.4M1302.5 765.0V880.4M1307.5 833.0V880.4M1312.5 777.9V880.4M1317.5 822.8V880.4M1322.5 831.9V880.4M1327.5 833.0V880.4M1332.5 823.9V880.4M1337.5 798.0V880.4M1342.5 811.0V880.4M1347.5 804.0V880.4M1352.5 808.8V880.4M1357.5 819.0V880.4M1362.5 791.1V880.4M1367.5 808.0V880.4M1372.5 772.0V880.4M1377.5 704.7V880.4M1382.5 786.0V880.4M1387.5 817.9V880.4M1392.5 844.8V880.4M1397.5 826.0V880.4M1402.5 833.0V880.4M1407.5 829.8V880.4M1412.5 833.8V880.4M1417.5 837.9V880.4M1422.5 837.9V880.4M1427.5 847.0V880.4M1432.5 844.0V880.4M1437.5 829.8V880.4M1442.5 822.0V880.4M1447.5 837.0V880.4M1452.5 845.9V880.4M1457.5 841.9V880.4M1462.5 833.0V880.4M1467.5 847.8V880.4M1472.5 848.9V880.4M1477.5 840.8V880.4M1482.5 833.8V880.4M1487.5 712.3V880.4M1492.5 794.0V880.4M1497.5 820.1V880.4M1502.5 841.9V880.4M1507.5 830.9V880.4M1512.5 811.0V880.4M1517.5 833.0V880.4M1522.5 829.0V880.4M1527.5 819.0V880.4M1532.5 809.1V880.4M1537.5 826.8V880.4M1542.5 823.9V880.4M1547.5 826.0V880.4M1552.5 837.9V880.4M1557.5 844.0V880.4M1562.5 841.9V880.4M1567.5 851.4V880.4M1572.5 831.9V880.4M1577.5 842.9V880.4M1582.5 842.9V880.4M1587.5 840.8V880.4M1592.5 849.9V880.4M1597.5 845.9V880.4M1602.5 844.8V880.4M1607.5 791.9V880.4M1612.5 835.9V880.4M1617.5 847.0V880.4M1622.5 848.9V880.4M1627.5 853.9V880.4M1632.5 833.0V880.4M1637.5 815.0V880.4M1642.5 833.8V880.4M1647.5 835.9V880.4M1652.5 851.4V880.4M1657.5 844.0V880.4M1662.5 844.8V880.4M1667.5 833.0V880.4M1672.5 845.9V880.4M1677.5 837.9V880.4M1682.5 822.8V880.4M1687.5 835.9V880.4M1692.5 847.0V880.4M1697.5 798.9V880.4M1702.5 851.4V880.4M1707.5 849.9V880.4M1712.5 852.9V880.4M1717.5 841.9V880.4M1722.5 837.0V880.4M1727.5 851.4V880.4M1732.5 837.0V880.4M1737.5 833.0V880.4M1742.5 809.1V880.4M1747.5 842.9V880.4M1752.5 837.0V880.4M1757.5 848.9V880.4M1762.5 840.0V880.4M1767.5 835.9V880.4M1772.5 835.9V880.4M1777.5 840.0V880.4M1782.5 830.9V880.4M1787.5 831.9V880.4M1792.5 827.9V880.4M1797.5 780.9V880.4" stroke="#00f" stroke-width="1.05" fill="none"/>
<line x1="0" y1="621.5" x2="1855" y2="621.5" stroke="#00f" stroke-width="1" shape-rendering="crispEdges"/>
<line x1="0" y1="851.5" x2="1855" y2="851.5" stroke="#00f" stroke-width="1" shape-rendering="crispEdges"/>
<polyline fill="none" stroke="#f00" stroke-width="1.05" stroke-linejoin="round" points="0.0,708.1 2.5,699.6 7.5,724.0 12.5,748.3 17.5,711.3 22.5,661.5 27.5,672.1 32.5,683.8 37.5,711.3 42.5,724.4 47.5,694.3 52.5,639.3 57.5,679.1 62.5,653.7 67.5,718.7 72.5,718.7 77.5,735.6 82.5,795.3 87.5,785.1 92.5,818.6 97.5,846.1 102.5,779.4 107.5,762.1 112.5,760.0 117.5,706.6 122.5,728.2 127.5,820.7 132.5,805.9 137.5,822.4 142.5,801.2 147.5,817.5 152.5,732.0 157.5,761.0 162.5,762.5 167.5,742.6 172.5,778.3 177.5,746.2 182.5,770.9 187.5,735.6 192.5,728.2 197.5,700.7 202.5,734.2 207.5,735.0 212.5,757.9 217.5,732.5 222.5,763.2 227.5,711.3 232.5,681.2 237.5,732.5 242.5,749.4 247.5,768.0 252.5,751.5 257.5,644.6 262.5,698.6 267.5,769.9 272.5,801.6 277.5,828.1 282.5,821.8 287.5,759.6 292.5,769.5 297.5,748.3 302.5,747.3 307.5,742.6 312.5,707.1 317.5,665.8 322.5,655.8 327.5,701.8 332.5,686.9 337.5,679.5 342.5,665.8 347.5,667.2 352.5,685.9 357.5,670.0 362.5,665.8 367.5,663.6 372.5,715.5 377.5,784.7 382.5,802.7 387.5,770.9 392.5,796.3 397.5,707.1 402.5,720.2 407.5,690.1 412.5,676.3 417.5,666.4 422.5,654.5 427.5,659.4 432.5,815.4 437.5,781.5 442.5,774.1 447.5,778.8 452.5,740.9 457.5,727.2 462.5,683.8 467.5,671.5 472.5,709.2 477.5,727.2 482.5,687.6 487.5,787.2 492.5,745.2 497.5,726.1 502.5,694.3 507.5,717.6 512.5,698.6 517.5,676.3 522.5,658.8 527.5,655.2 532.5,645.6 537.5,614.5 542.5,613.5 547.5,656.2 552.5,698.6 557.5,730.8 562.5,736.7 567.5,769.5 572.5,720.2 577.5,749.4 582.5,783.6 587.5,797.4 592.5,755.3 597.5,776.2 602.5,709.2 607.5,699.6 612.5,674.2 617.5,679.9 622.5,671.1 627.5,769.5 632.5,773.7 637.5,707.1 642.5,682.7 647.5,769.9 652.5,801.2 657.5,801.2 662.5,769.9 667.5,742.0 672.5,724.0 677.5,696.0 682.5,702.4 687.5,708.1 692.5,688.0 697.5,650.9 702.5,642.5 707.5,627.6 712.5,613.9 717.5,646.7 722.5,701.8 727.5,703.9 732.5,671.5 737.5,668.9 742.5,658.8 747.5,654.1 752.5,704.9 757.5,753.6 762.5,803.8 767.5,811.2 772.5,828.1 777.5,739.2 782.5,749.4 787.5,704.5 792.5,743.0 797.5,695.4 802.5,686.9 807.5,663.6 812.5,648.8 817.5,709.2 822.5,743.0 827.5,700.7 832.5,665.8 837.5,654.1 842.5,641.4 847.5,655.2 852.5,647.8 857.5,685.9 862.5,684.2 867.5,723.6 872.5,678.5 877.5,686.3 882.5,671.1 887.5,645.6 892.5,641.0 897.5,736.3 902.5,721.5 907.5,749.4 912.5,709.6 917.5,721.5 922.5,688.0 927.5,662.6 932.5,674.2 937.5,674.2 942.5,728.2 947.5,679.5 952.5,668.5 957.5,781.5 962.5,791.1 967.5,690.1 972.5,685.9 977.5,690.1 982.5,646.7 987.5,640.3 992.5,630.8 997.5,619.8 1002.5,666.4 1007.5,665.1 1012.5,630.8 1017.5,624.5 1022.5,662.6 1027.5,684.2 1032.5,661.5 1037.5,645.6 1042.5,641.0 1047.5,656.7 1052.5,634.6 1057.5,656.2 1062.5,694.3 1067.5,722.3 1072.5,728.2 1077.5,686.3 1082.5,706.6 1087.5,683.8 1092.5,663.6 1097.5,751.5 1102.5,711.3 1107.5,671.5 1112.5,743.0 1117.5,832.3 1122.5,850.3 1127.5,809.1 1132.5,819.6 1137.5,752.6 1142.5,745.2 1147.5,697.5 1152.5,683.8 1157.5,671.1 1162.5,659.4 1167.5,649.9 1172.5,641.4 1177.5,636.7 1182.5,635.1 1187.5,629.8 1192.5,624.9 1197.5,614.9 1202.5,609.2 1207.5,607.1 1212.5,605.4 1217.5,602.9 1222.5,601.6 1227.5,621.3 1232.5,681.6 1237.5,730.3 1242.5,725.7 1247.5,673.2 1252.5,665.8 1257.5,646.7 1262.5,630.4 1267.5,643.9 1272.5,641.8 1277.5,686.3 1282.5,639.3 1287.5,637.6 1292.5,647.3 1297.5,677.8 1302.5,657.9 1307.5,655.8 1312.5,769.5 1317.5,769.5 1322.5,728.2 1327.5,695.4 1332.5,710.2 1337.5,774.5 1342.5,780.0 1347.5,796.3 1352.5,821.8 1357.5,776.2 1362.5,801.2 1367.5,791.1 1372.5,805.9 1377.5,712.3 1382.5,849.3 1387.5,810.1 1392.5,811.2 1397.5,786.8 1402.5,762.1 1407.5,742.0 1412.5,770.9 1417.5,791.5 1422.5,744.1 1427.5,764.2 1432.5,726.1 1437.5,716.6 1442.5,747.3 1447.5,778.8 1452.5,781.5 1457.5,772.0 1462.5,824.5 1467.5,779.4 1472.5,758.3 1477.5,764.2 1482.5,778.3 1487.5,668.5 1492.5,654.1 1497.5,639.7 1502.5,660.5 1507.5,658.8 1512.5,638.9 1517.5,633.4 1522.5,638.2 1527.5,708.1 1532.5,652.0 1537.5,639.3 1542.5,630.8 1547.5,621.9 1552.5,643.5 1557.5,660.0 1562.5,641.0 1567.5,634.0 1572.5,621.9 1577.5,626.2 1582.5,620.2 1587.5,620.2 1592.5,614.9 1597.5,635.5 1602.5,627.0 1607.5,620.2 1612.5,749.8 1617.5,774.1 1622.5,796.3 1627.5,787.9 1632.5,846.1 1637.5,854.2 1642.5,775.2 1647.5,775.2 1652.5,766.3 1657.5,738.4 1662.5,756.2 1667.5,704.9 1672.5,685.9 1677.5,664.3 1682.5,735.0 1687.5,748.3 1692.5,756.2 1697.5,704.9 1702.5,685.9 1707.5,752.6 1712.5,765.3 1717.5,772.4 1722.5,714.5 1727.5,703.2 1732.5,692.7 1737.5,728.2 1742.5,721.5 1747.5,677.8 1752.5,711.3 1757.5,736.7 1762.5,677.8 1767.5,656.7 1772.5,697.5 1777.5,691.8 1782.5,657.9 1787.5,768.5 1792.5,739.2 1797.5,802.1"/>
<rect x="1855" y="0" width="35" height="902" fill="#fff"/>
<rect x="0" y="880.4" width="1890" height="21.6" fill="#fff"/>
<path d="M1856 574.5h3M1856 569.5h6M1856 564.5h3M1856 559.5h3M1856 554.5h3M1856 549.5h3M1856 544.5h6M1856 539.5h3M1856 534.5h3M1856 529.5h3M1856 524.5h3M1856 519.5h6M1856 513.5h3M1856 508.5h3M1856 503.5h3M1856 498.5h3M1856 493.5h6M1856 488.5h3M1856 483.5h3M1856 478.5h3M1856 473.5h3M1856 468.5h6M1856 463.5h3M1856 458.5h3M1856 453.5h3M1856 448.5h3M1856 443.5h6M1856 437.5h3M1856 432.5h3M1856 427.5h3M1856 422.5h3M1856 417.5h6M1856 412.5h3M1856 407.5h3M1856 402.5h3M1856 397.5h3M1856 392.5h6M1856 387.5h3M1856 382.5h3M1856 377.5h3M1856 372.5h3M1856 366.5h6M1856 361.5h3M1856 356.5h3M1856 351.5h3M1856 346.5h3M1856 341.5h6M1856 336.5h3M1856 331.5h3M1856 326.5h3M1856 321.5h3M1856 316.5h6M1856 311.5h3M1856 306.5h3M1856 301.5h3M1856 296.5h3M1856 290.5h6M1856 285.5h3M1856 280.5h3M1856 275.5h3M1856 270.5h3M1856 265.5h6M1856 260.5h3M1856 255.5h3M1856 250.5h3M1856 245.5h3M1856 240.5h6M1856 235.5h3M1856 230.5h3M1856 225.5h3M1856 219.5h3M1856 214.5h6M1856 209.5h3M1856 204.5h3M1856 199.5h3M1856 194.5h3M1856 189.5h6M1856 184.5h3M1856 179.5h3M1856 174.5h3M1856 169.5h3M1856 164.5h6M1856 159.5h3M1856 154.5h3M1856 149.5h3M1856 143.5h3M1856 138.5h6M1856 133.5h3M1856 128.5h3M1856 123.5h3M1856 118.5h3M1856 113.5h6M1856 108.5h3M1856 103.5h3M1856 98.5h3M1856 93.5h3M1856 88.5h6M1856 83.5h3M1856 78.5h3M1856 72.5h3M1856 67.5h3M1856 62.5h6M1856 57.5h3M1856 52.5h3M1856 47.5h3M1856 42.5h3M1856 37.5h6M1856 32.5h3M1856 27.5h3M1856 22.5h3M1856 17.5h3M1856 12.5h6M1856 7.5h3M1856 2.5h3M1856 877.5h3M1856 874.5h3M1856 871.5h3M1856 868.5h3M1856 865.5h6M1856 862.5h3M1856 859.5h3M1856 856.5h3M1856 853.5h3M1856 850.5h6M1856 847.5h3M1856 844.5h3M1856 841.5h3M1856 838.5h3M1856 835.5h6M1856 832.5h3M1856 829.5h3M1856 826.5h3M1856 823.5h3M1856 820.5h6M1856 817.5h3M1856 814.5h3M1856 811.5h3M1856 808.5h3M1856 805.5h6M1856 802.5h3M1856 799.5h3M1856 796.5h3M1856 793.5h3M1856 790.5h6M1856 787.5h3M1856 784.5h3M1856 781.5h3M1856 778.5h3M1856 775.5h6M1856 772.5h3M1856 769.5h3M1856 766.5h3M1856 763.5h3M1856 760.5h6M1856 757.5h3M1856 754.5h3M1856 751.5h3M1856 748.5h3M1856 745.5h6M1856 742.5h3M1856 739.5h3M1856 736.5h3M1856 733.5h3M1856 730.5h6M1856 727.5h3M1856 724.5h3M1856 721.5h3M1856 718.5h3M1856 715.5h6M1856 712.5h3M1856 709.5h3M1856 706.5h3M1856 703.5h3M1856 700.5h6M1856 697.5h3M1856 694.5h3M1856 691.5h3M1856 688.5h3M1856 685.5h6M1856 682.5h3M1856 679.5h3M1856 676.5h3M1856 673.5h3M1856 670.5h6M1856 667.5h3M1856 664.5h3M1856 661.5h3M1856 658.5h3M1856 655.5h6M1856 652.5h3M1856 649.5h3M1856 646.5h3M1856 643.5h3M1856 640.5h6M1856 637.5h3M1856 634.5h3M1856 631.5h3M1856 628.5h3M1856 625.5h6M1856 622.5h3M1856 619.5h3M1856 616.5h3M1856 613.5h3M1856 610.5h6M1856 607.5h3M1856 604.5h3M1856 601.5h3M1856 598.5h3M1856 595.5h6M1856 592.5h3M1856 589.5h3M1856 586.5h3M1856 583.5h3" stroke="#000" stroke-width="1" fill="none" shape-rendering="crispEdges"/>
<line x1="1855.5" y1="0" x2="1855.5" y2="880.9" stroke="#000" stroke-width="1" shape-rendering="crispEdges"/>
<g font-family="'Liberation Sans', Arial, sans-serif" font-size="8.4" fill="#111" text-anchor="end">
<text x="1887.5" y="573.3">10.5</text>
<text x="1887.5" y="548.0">11.0</text>
<text x="1887.5" y="522.7">11.5</text>
<text x="1887.5" y="497.3">12.0</text>
<text x="1887.5" y="472.0">12.5</text>
<text x="1887.5" y="446.6">13.0</text>
<text x="1887.5" y="421.3">13.5</text>
<text x="1887.5" y="395.9">14.0</text>
<text x="1887.5" y="370.6">14.5</text>
<text x="1887.5" y="345.2">15.0</text>
<text x="1887.5" y="319.9">15.5</text>
<text x="1887.5" y="294.6">16.0</text>
<text x="1887.5" y="269.2">16.5</text>
<text x="1887.5" y="243.9">17.0</text>
<text x="1887.5" y="218.5">17.5</text>
<text x="1887.5" y="193.2">18.0</text>
<text x="1887.5" y="167.8">18.5</text>
<text x="1887.5" y="142.5">19.0</text>
<text x="1887.5" y="117.1">19.5</text>
<text x="1887.5" y="91.8">20.0</text>
<text x="1887.5" y="66.4">20.5</text>
<text x="1887.5" y="41.1">21.0</text>
<text x="1887.5" y="15.8">21.5</text>
<text x="1887.5" y="869.0" textLength="19.8" lengthAdjust="spacing">5000</text>
<text x="1887.5" y="854.0" textLength="24.8" lengthAdjust="spacing">10000</text>
<text x="1887.5" y="839.0" textLength="24.8" lengthAdjust="spacing">15000</text>
<text x="1887.5" y="824.0" textLength="24.8" lengthAdjust="spacing">20000</text>
<text x="1887.5" y="809.0" textLength="24.8" lengthAdjust="spacing">25000</text>
<text x="1887.5" y="794.0" textLength="24.8" lengthAdjust="spacing">30000</text>
<text x="1887.5" y="779.0" textLength="24.8" lengthAdjust="spacing">35000</text>
<text x="1887.5" y="764.0" textLength="24.8" lengthAdjust="spacing">40000</text>
<text x="1887.5" y="749.0" textLength="24.8" lengthAdjust="spacing">45000</text>
<text x="1887.5" y="734.0" textLength="24.8" lengthAdjust="spacing">50000</text>
<text x="1887.5" y="719.0" textLength="24.8" lengthAdjust="spacing">55000</text>
<text x="1887.5" y="704.0" textLength="24.8" lengthAdjust="spacing">60000</text>
<text x="1887.5" y="689.0" textLength="24.8" lengthAdjust="spacing">65000</text>
<text x="1887.5" y="674.0" textLength="24.8" lengthAdjust="spacing">70000</text>
<text x="1887.5" y="659.0" textLength="24.8" lengthAdjust="spacing">75000</text>
<text x="1887.5" y="644.0" textLength="24.8" lengthAdjust="spacing">80000</text>
<text x="1887.5" y="629.0" textLength="24.8" lengthAdjust="spacing">85000</text>
<text x="1887.5" y="614.0" textLength="24.8" lengthAdjust="spacing">90000</text>
<text x="1887.5" y="599.0" textLength="24.8" lengthAdjust="spacing">95000</text>
</g>
<path d="M1856 872.3H1873.5V880" stroke="#000" stroke-width="1.1" fill="none"/>
<text x="1857.6" y="879" font-family="'Liberation Sans', Arial, sans-serif" font-size="6.4" fill="#555">x100</text>
<g stroke="#000" stroke-width="1.1" fill="none">
<line x1="0" y1="880.4" x2="1855.5" y2="880.4"/>
<line x1="0" y1="891.4" x2="1855" y2="891.4"/>
<path d="M2.5 880.4V891.4M27.5 880.4V891.4M52.5 880.4V891.4M77.5 880.4V891.4M102.5 880.4V891.4M127.5 880.4V891.4M152.5 880.4V891.4M177.5 880.4V891.4M202.5 880.4V891.4M227.5 880.4V891.4M252.5 880.4V891.4M277.5 880.4V891.4M302.5 880.4V891.4M322.5 880.4V891.4M347.5 880.4V891.4M372.5 880.4V891.4M397.5 880.4V891.4M422.5 880.4V891.4M447.5 880.4V891.4M472.5 880.4V891.4M497.5 880.4V891.4M522.5 880.4V891.4M546.5 880.4V891.4M572.5 880.4V891.4M597.5 880.4V891.4M622.5 880.4V891.4M647.5 880.4V891.4M671.5 880.4V891.4M697.5 880.4V891.4M722.5 880.4V891.4M747.5 880.4V891.4M772.5 880.4V891.4M796.5 880.4V891.4M822.5 880.4V891.4M847.5 880.4V891.4M872.5 880.4V891.4M897.5 880.4V891.4M921.5 880.4V891.4M947.5 880.4V891.4M972.5 880.4V891.4M997.5 880.4V891.4M1022.5 880.4V891.4M1046.5 880.4V891.4M1072.5 880.4V891.4M1097.5 880.4V891.4M1122.5 880.4V891.4M1147.5 880.4V891.4M1167.5 880.4V891.4M1187.5 880.4V891.4M1207.5 880.4V891.4M1232.5 880.4V891.4M1256.5 880.4V891.4M1282.5 880.4V891.4M1307.5 880.4V891.4M1332.5 880.4V891.4M1357.5 880.4V891.4M1381.5 880.4V891.4M1407.5 880.4V891.4M1431.5 880.4V891.4M1457.5 880.4V891.4M1482.5 880.4V891.4M1506.5 880.4V891.4M1532.5 880.4V891.4M1556.5 880.4V891.4M1577.5 880.4V891.4M1602.5 880.4V891.4M1627.5 880.4V891.4M1652.5 880.4V891.4M1676.5 880.4V891.4M1702.5 880.4V891.4M1726.5 880.4V891.4M1752.5 880.4V891.4M1777.5 880.4V891.4M1801.5 880.4V891.4M1827.5 880.4V891.4M1851.5 880.4V891.4M782.5 880.4V891.4M52.5 880.4V902M152.5 880.4V902M267.5 880.4V902M372.5 880.4V902M477.5 880.4V902M592.5 880.4V902M697.5 880.4V902M787.5 880.4V902M897.5 880.4V902M997.5 880.4V902M1102.5 880.4V902M1202.5 880.4V902M1307.5 880.4V902M1412.5 880.4V902M1527.5 880.4V902M1627.5 880.4V902M1737.5 880.4V902M1851.5 880.4V902"/>
</g>
<g font-family="'Liberation Sans', Arial, sans-serif" font-size="8" fill="#111" clip-path="url(#cpx)">
<clipPath id="cpx"><rect x="0" y="880.4" width="1855" height="30"/></clipPath>
<text x="3.8" y="889">20</text>
<text x="28.8" y="889">27</text>
<text x="53.8" y="889">3</text>
<text x="78.8" y="889">10</text>
<text x="103.8" y="889">17</text>
<text x="128.8" y="889">24</text>
<text x="153.8" y="889">1</text>
<text x="178.8" y="889">8</text>
<text x="203.8" y="889">15</text>
<text x="228.8" y="889">22</text>
<text x="253.8" y="889">29</text>
<text x="278.8" y="889">5</text>
<text x="303.8" y="889">12</text>
<text x="323.8" y="889">19</text>
<text x="348.8" y="889">26</text>
<text x="373.8" y="889">2</text>
<text x="398.8" y="889">9</text>
<text x="423.8" y="889">16</text>
<text x="448.8" y="889">23</text>
<text x="473.8" y="889">30</text>
<text x="498.8" y="889">7</text>
<text x="523.8" y="889">14</text>
<text x="547.8" y="889">21</text>
<text x="573.8" y="889">28</text>
<text x="598.8" y="889">4</text>
<text x="623.8" y="889">11</text>
<text x="648.8" y="889">18</text>
<text x="672.8" y="889">25</text>
<text x="698.8" y="889">2</text>
<text x="723.8" y="889">9</text>
<text x="748.8" y="889">16</text>
<text x="773.8" y="889">23</text>
<text x="797.8" y="889">6</text>
<text x="823.8" y="889">13</text>
<text x="848.8" y="889">20</text>
<text x="873.8" y="889">27</text>
<text x="898.8" y="889">3</text>
<text x="922.8" y="889">10</text>
<text x="948.8" y="889">17</text>
<text x="973.8" y="889">24</text>
<text x="998.8" y="889">3</text>
<text x="1023.8" y="889">10</text>
<text x="1047.8" y="889">17</text>
<text x="1073.8" y="889">24</text>
<text x="1098.8" y="889">31</text>
<text x="1123.8" y="889">7</text>
<text x="1148.8" y="889">14</text>
<text x="1168.8" y="889">22</text>
<text x="1188.8" y="889">28</text>
<text x="1208.8" y="889">5</text>
<text x="1233.8" y="889">12</text>
<text x="1257.8" y="889">19</text>
<text x="1283.8" y="889">26</text>
<text x="1308.8" y="889">2</text>
<text x="1333.8" y="889">9</text>
<text x="1358.8" y="889">16</text>
<text x="1382.8" y="889">23</text>
<text x="1408.8" y="889">30</text>
<text x="1432.8" y="889">7</text>
<text x="1458.8" y="889">14</text>
<text x="1483.8" y="889">21</text>
<text x="1507.8" y="889">28</text>
<text x="1533.8" y="889">4</text>
<text x="1557.8" y="889">11</text>
<text x="1578.8" y="889">18</text>
<text x="1603.8" y="889">25</text>
<text x="1628.8" y="889">1</text>
<text x="1653.8" y="889">8</text>
<text x="1677.8" y="889">15</text>
<text x="1703.8" y="889">22</text>
<text x="1727.8" y="889">29</text>
<text x="1753.8" y="889">6</text>
<text x="1778.8" y="889">13</text>
<text x="1802.8" y="889">20</text>
<text x="1828.8" y="889">27</text>
<text x="1852.8" y="889">3</text>
<text x="53.3" y="899.8">June</text>
<text x="153.3" y="899.8">July</text>
<text x="268.3" y="899.8">August</text>
<text x="373.3" y="899.8">September</text>
<text x="478.3" y="899.8">October</text>
<text x="593.3" y="899.8">November</text>
<text x="698.3" y="899.8">December</text>
<text x="788.3" y="899.8">2025</text>
<text x="898.3" y="899.8">February</text>
<text x="998.3" y="899.8">March</text>
<text x="1103.3" y="899.8">April</text>
<text x="1203.3" y="899.8">May</text>
<text x="1308.3" y="899.8">June</text>
<text x="1413.3" y="899.8">July</text>
<text x="1528.3" y="899.8">August</text>
<text x="1628.3" y="899.8">September</text>
<text x="1738.3" y="899.8">October</text>
<text x="1852.3" y="899.8">November</text>
</g>
<rect x="799" y="2" width="256" height="12" fill="#fff"/>
<text x="801" y="10.8" font-family="'Liberation Sans', Arial, sans-serif" font-size="8.4" fill="#262626" textLength="252" lengthAdjust="spacingAndGlyphs">POSTE ITALIANE (20.1000, 20.1400, 19.8400, 19.9350, -0.46500)</text>
<rect x="164.5" y="45.5" width="398" height="129" fill="#ff0" stroke="#000" stroke-width="1" shape-rendering="crispEdges"/>
<g font-family="'Liberation Sans', Arial, sans-serif" font-size="13" font-weight="bold" fill="#000">
<text x="166.6" y="57.8" textLength="315.1" lengthAdjust="spacing">Gap down e small black sui 19,935 per Poste che</text>
<text x="166.6" y="73.9" textLength="346.7" lengthAdjust="spacing">apre male e corregge in area di stop. Ci butta fuori dal</text>
<text x="166.6" y="90.1" textLength="364.1" lengthAdjust="spacing">secondo acquisto (l'incremento sui 20,3) e abbiamo stop</text>
<text x="166.6" y="106.2" textLength="300.1" lengthAdjust="spacing">profit sotto i 19,8 per lunedì (nel caso mollasse</text>
<text x="166.6" y="122.3" textLength="357.4" lengthAdjust="spacing">tutto il mercato) anche sul primo buy in essere da inizio</text>
<text x="166.6" y="138.4" textLength="386.7" lengthAdjust="spacing">settembre. Abbiamo margine per stare abbastanza tranquilli</text>
<text x="166.6" y="154.6" textLength="392.4" lengthAdjust="spacing">ma ovviamente c'era la speranza di portare la posizione tutto</text>
<text x="166.6" y="170.7" textLength="146.7" lengthAdjust="spacing">l'inverno fin sopra i 22.</text>
</g>
<rect x="1475.6" y="544.4" width="206.4" height="13.2" fill="#fff" stroke="#000" stroke-width="1.1"/>
<text x="1477.2" y="553.6" font-family="'Liberation Sans', Arial, sans-serif" font-size="9.9" font-weight="bold" fill="#000" stroke="#000" stroke-width="0.5" textLength="202.3" lengthAdjust="spacingAndGlyphs">COPYRIGHT@ LABORSADEIPICCOLI.COM</text>
</svg>
</body></html>
